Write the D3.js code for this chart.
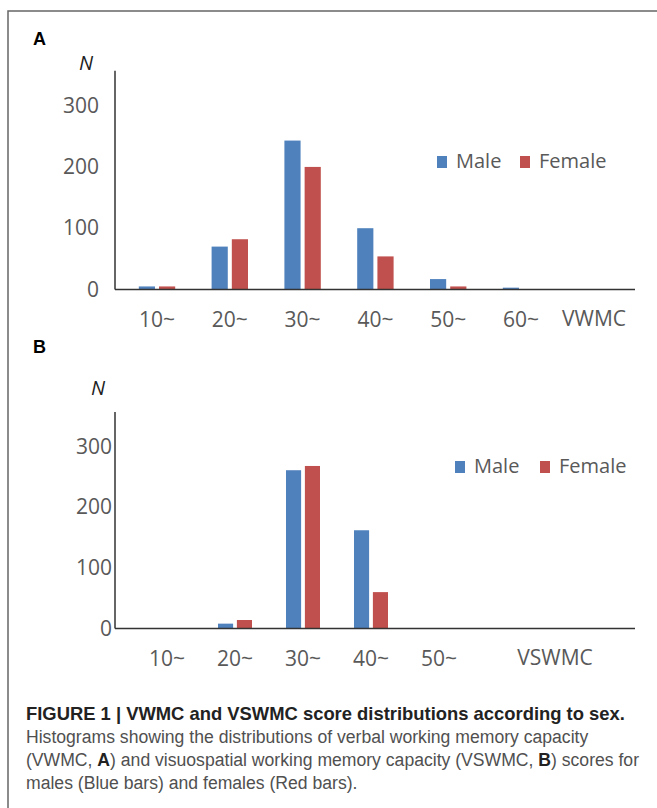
<!DOCTYPE html>
<html>
<head>
<meta charset="utf-8">
<script src="https://cdn.jsdelivr.net/npm/d3@7"></script>
<style>
  body { margin: 0; background: #fff; }
  svg { display: block; }
</style>
</head>
<body>
<script>
// score bins, counts
const CATS_A = ["10~", "20~", "30~", "40~", "50~", "60~"];
const MALE_A = [5, 70, 243, 100, 17, 3];
const FEMALE_A = [5, 82, 200, 54, 5, 0];

const CATS_B = ["10~", "20~", "30~", "40~", "50~"];
const MALE_B = [0, 8, 261, 162, 0];
const FEMALE_B = [0, 14, 268, 60, 0];

const SEXES = ["Male", "Female"];
const Y_TICKS = [0, 100, 200, 300];
const COLORS = {Male: "#4F81BD", Female: "#C0504D"};

const W = 657, H = 808;
const FONT = "'Open Sans', sans-serif";

const svg = d3.select("body").append("svg")
  .attr("width", W)
  .attr("height", H);

// frame around the figure (right/bottom edges run off the page)
svg.append("rect")
  .attr("x", 8).attr("y", 11)
  .attr("width", 700).attr("height", 900)
  .attr("fill", "none")
  .attr("stroke", "#666")
  .attr("stroke-width", 1.5);

function drawPanel(p) {
  const g = svg.append("g");

  const y = d3.scaleLinear().domain([0, 357]).range([p.zeroY, p.topY]);
  const x = d3.scaleBand().domain(p.cats)
    .range(p.xRange)
    .paddingInner(0.5)
    .paddingOuter(0.25);
  const xSex = d3.scaleBand().domain(SEXES)
    .range([0, x.bandwidth()])
    .paddingInner(0.2);

  const rows = p.cats.map((c, i) => ({cat: c, Male: p.male[i], Female: p.female[i]}));

  // bars
  const groups = g.selectAll(".grp")
    .data(rows)
    .enter()
    .append("g")
    .attr("transform", d => `translate(${x(d.cat)},0)`);

  groups.selectAll("rect")
    .data(d => SEXES.map(s => ({sex: s, value: d[s]})))
    .enter()
    .append("rect")
    .attr("x", d => xSex(d.sex))
    .attr("width", xSex.bandwidth())
    .attr("y", d => y(d.value))
    .attr("height", d => y(0) - y(d.value))
    .attr("fill", d => COLORS[d.sex]);

  // y axis: labels only, line drawn by hand
  const yAxis = g.append("g")
    .attr("transform", `translate(${p.axisX},0)`)
    .call(d3.axisLeft(y).tickValues(Y_TICKS).tickSize(0).tickPadding(p.yPad));
  yAxis.select(".domain").remove();
  yAxis.selectAll("text")
    .attr("font-family", FONT)
    .attr("font-size", "21px")
    .attr("fill", "#595959");

  g.append("line")
    .attr("x1", p.axisX).attr("x2", p.axisX)
    .attr("y1", p.topY).attr("y2", p.zeroY)
    .attr("stroke", "#333").attr("stroke-width", 1.5);

  // x axis
  const xAxis = g.append("g")
    .attr("transform", `translate(0,${p.zeroY})`)
    .call(d3.axisBottom(x).tickSize(0));
  xAxis.select(".domain").remove();
  xAxis.selectAll("text")
    .attr("y", 37)
    .attr("dy", null)
    .attr("font-family", FONT)
    .attr("font-size", "21px")
    .attr("fill", "#595959");

  g.append("line")
    .attr("x1", p.axisX).attr("x2", 635)
    .attr("y1", p.zeroY).attr("y2", p.zeroY)
    .attr("stroke", "#333").attr("stroke-width", 1.5);

  // axis title
  g.append("text")
    .attr("x", p.titleX)
    .attr("y", p.zeroY + 36)
    .attr("text-anchor", "middle")
    .attr("font-family", FONT)
    .attr("font-size", "21px")
    .attr("fill", "#595959")
    .text(p.xTitle);

  // N label
  g.append("text")
    .attr("x", p.nX)
    .attr("y", p.nY)
    .attr("font-family", FONT)
    .attr("font-style", "italic")
    .attr("font-size", "20px")
    .attr("fill", "#222")
    .text("N");

  // panel letter
  g.append("text")
    .attr("x", 33)
    .attr("y", p.letterY)
    .attr("font-family", "'Liberation Sans', Arial, sans-serif")
    .attr("font-weight", "bold")
    .attr("font-size", "18px")
    .attr("fill", "#000")
    .text(p.letter);

  // legend
  const leg = g.selectAll(".leg")
    .data(SEXES)
    .enter()
    .append("g")
    .attr("transform", (d, i) => `translate(${p.legX[i]},${p.legY})`);
  leg.append("rect")
    .attr("x", 0).attr("y", -12)
    .attr("width", 10).attr("height", 12)
    .attr("fill", d => COLORS[d]);
  leg.append("text")
    .attr("x", 19)
    .attr("y", 0)
    .attr("font-family", FONT)
    .attr("font-size", "20px")
    .attr("fill", "#595959")
    .text(d => d);
}

drawPanel({
  letter: "A", letterY: 45,
  cats: CATS_A, male: MALE_A, female: FEMALE_A,
  zeroY: 289.5, topY: 70.7,
  axisX: 115, yPad: 16,
  xRange: [120.6, 557.4],
  xTitle: "VWMC", titleX: 594,
  nX: 79, nY: 70,
  legX: [437, 520], legY: 168
});

drawPanel({
  letter: "B", letterY: 353,
  cats: CATS_B, male: MALE_B, female: FEMALE_B,
  zeroY: 628.5, topY: 412,
  axisX: 115, yPad: 3,
  xRange: [133, 473],
  xTitle: "VSWMC", titleX: 555,
  nX: 91, nY: 395,
  legX: [455, 540], legY: 473
});

// caption
const CAP = "'Liberation Sans', Arial, sans-serif";
svg.append("text")
  .attr("x", 26).attr("y", 720)
  .attr("font-family", CAP)
  .attr("font-weight", "bold")
  .attr("font-size", "18.4px")
  .attr("fill", "#222")
  .text("FIGURE 1 | VWMC and VSWMC score distributions according to sex.");

const capLines = [
  [["Histograms showing the distributions of verbal working memory capacity", false]],
  [["(VWMC, ", false], ["A", true], [") and visuospatial working memory capacity (VSWMC, ", false], ["B", true], [") scores for", false]],
  [["males (Blue bars) and females (Red bars).", false]]
];
capLines.forEach((parts, i) => {
  const t = svg.append("text")
    .attr("x", 26).attr("y", 743 + i * 23)
    .attr("font-family", CAP)
    .attr("font-size", "17.6px")
    .attr("fill", "#505050");
  parts.forEach(([s, b]) => {
    t.append("tspan")
      .attr("font-weight", b ? "bold" : null)
      .attr("fill", b ? "#222" : null)
      .text(s);
  });
});
</script>
</body>
</html>
